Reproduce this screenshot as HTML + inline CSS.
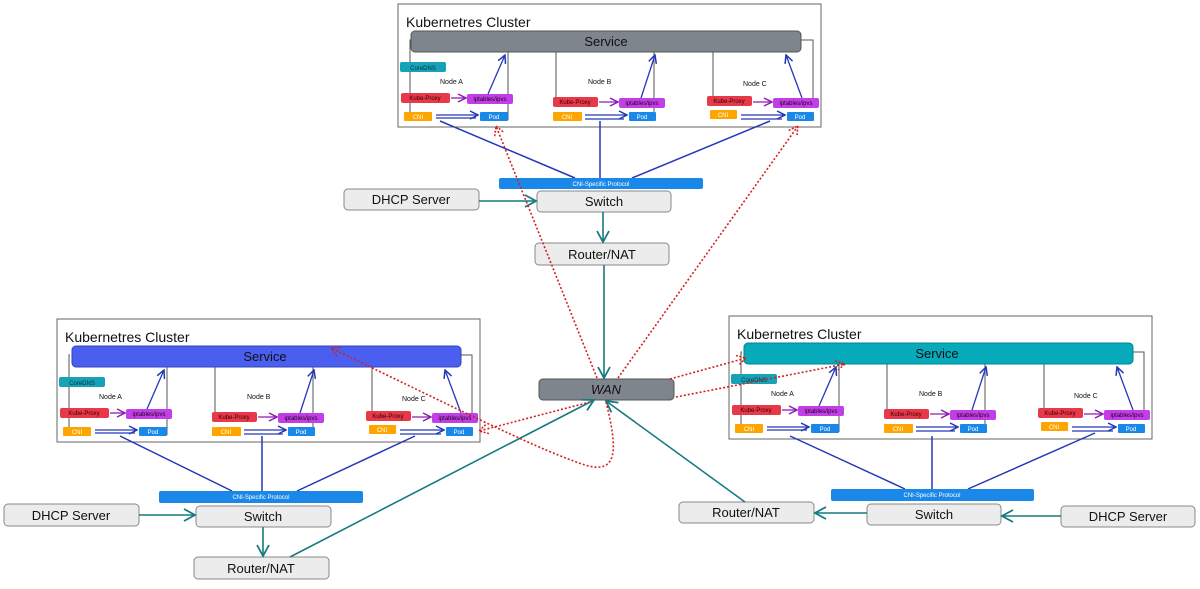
<!DOCTYPE html>
<html><head><meta charset="utf-8"><style>
html,body{margin:0;padding:0;background:#fff;}
svg text{font-family:"Liberation Sans",sans-serif;}
</style></head><body>
<svg width="1200" height="584" viewBox="0 0 1200 584" xmlns="http://www.w3.org/2000/svg">
<defs>
<marker id="ab" markerWidth="10" markerHeight="10" refX="9" refY="5" orient="auto" markerUnits="userSpaceOnUse"><path d="M1,1 L9,5 L1,9" fill="none" stroke="#2438b8" stroke-width="1.5"/></marker>
<marker id="ap" markerWidth="10" markerHeight="10" refX="9" refY="5" orient="auto" markerUnits="userSpaceOnUse"><path d="M1,1 L9,5 L1,9" fill="none" stroke="#8a1fb0" stroke-width="1.5"/></marker>
<marker id="at" markerWidth="14" markerHeight="14" refX="12" refY="7" orient="auto" markerUnits="userSpaceOnUse"><path d="M1,1 L12,7 L1,13" fill="none" stroke="#167a80" stroke-width="1.8"/></marker>
<marker id="ar" markerWidth="12" markerHeight="12" refX="10" refY="6" orient="auto" markerUnits="userSpaceOnUse"><path d="M1,1 L10,6 L1,11" fill="none" stroke="#d42020" stroke-width="1.5" stroke-dasharray="2 1.5"/></marker>
<g id="cl">
<rect x="0" y="0" width="423" height="123" fill="#fff" stroke="#666" stroke-width="1"/>
<text x="8" y="23" font-size="14" fill="#111">Kubernetres Cluster</text>
<g stroke="#555" stroke-width="1" fill="none">
<path d="M13,36 H12 V116"/><path d="M110,48 V116"/>
<path d="M158,48 V96"/><path d="M256,48 V116"/>
<path d="M315,48 V96"/><path d="M403,36 H415 V98"/>
</g>
<rect x="2" y="58" width="46" height="10" rx="2" fill="#17a2b8"/><text x="25" y="66" font-size="6" text-anchor="middle" fill="#033">CoreDNS</text>
<g font-size="7" fill="#111"><text x="42" y="80">Node A</text><text x="190" y="80">Node B</text><text x="345" y="82">Node C</text></g>
<g font-size="6" text-anchor="middle">
<rect x="3" y="89" width="49" height="10" rx="2" fill="#e8394a"/><text x="27" y="96" fill="#300">Kube-Proxy</text>
<rect x="69" y="90" width="46" height="10" rx="2" fill="#c23ee8"/><text x="92" y="97" fill="#201">iptables/ipvs</text>
<rect x="6" y="108" width="28" height="9" rx="1" fill="#ffa500"/><text x="20" y="115" fill="#fff">CNI</text>
<rect x="82" y="108" width="28" height="9" rx="1" fill="#1a88e8"/><text x="96" y="115" fill="#fff">Pod</text>
<rect x="155" y="93" width="45" height="10" rx="2" fill="#e8394a"/><text x="177" y="100" fill="#300">Kube-Proxy</text>
<rect x="221" y="94" width="46" height="10" rx="2" fill="#c23ee8"/><text x="244" y="101" fill="#201">iptables/ipvs</text>
<rect x="155" y="108" width="29" height="9" rx="1" fill="#ffa500"/><text x="169" y="115" fill="#fff">CNI</text>
<rect x="231" y="108" width="27" height="9" rx="1" fill="#1a88e8"/><text x="244" y="115" fill="#fff">Pod</text>
<rect x="309" y="92" width="45" height="10" rx="2" fill="#e8394a"/><text x="331" y="99" fill="#300">Kube-Proxy</text>
<rect x="375" y="94" width="46" height="10" rx="2" fill="#c23ee8"/><text x="398" y="101" fill="#201">iptables/ipvs</text>
<rect x="312" y="106" width="27" height="9" rx="1" fill="#ffa500"/><text x="325" y="113" fill="#fff">CNI</text>
<rect x="389" y="108" width="27" height="9" rx="1" fill="#1a88e8"/><text x="402" y="115" fill="#fff">Pod</text>
</g>
<g stroke="#8a1fb0" stroke-width="1.3" marker-end="url(#ap)"><line x1="53" y1="94" x2="68" y2="94"/><line x1="201" y1="98" x2="220" y2="98"/><line x1="355" y1="98" x2="374" y2="98"/></g>
<g stroke="#2438b8" stroke-width="1.3" fill="none">
<line x1="38" y1="111" x2="80" y2="111" marker-end="url(#ab)"/><line x1="38" y1="114" x2="78" y2="114"/>
<line x1="187" y1="111" x2="229" y2="111" marker-end="url(#ab)"/><line x1="187" y1="115" x2="226" y2="115"/>
<line x1="343" y1="111" x2="387" y2="111" marker-end="url(#ab)"/><line x1="343" y1="115" x2="384" y2="115"/>
<line x1="90" y1="90" x2="107" y2="51" marker-end="url(#ab)"/>
<line x1="243" y1="94" x2="257" y2="51" marker-end="url(#ab)"/>
<line x1="404" y1="94" x2="388" y2="51" marker-end="url(#ab)"/>
</g>
</g>
</defs>

<!-- top cluster -->
<g transform="translate(398,4)"><use href="#cl"/>
<rect x="13" y="27" width="390" height="21" rx="4" fill="#7f858c" stroke="#555"/><text x="208" y="42" font-size="13" text-anchor="middle" fill="#111">Service</text></g>
<!-- bottom-left -->
<g transform="translate(57,319)"><use href="#cl"/>
<rect x="15" y="27" width="389" height="21" rx="4" fill="#4a5ff0" stroke="#3344bb"/><text x="208" y="42" font-size="13" text-anchor="middle" fill="#111">Service</text></g>
<!-- bottom-right -->
<g transform="translate(729,316)"><use href="#cl"/>
<rect x="15" y="27" width="389" height="21" rx="4" fill="#06aabb" stroke="#088"/><text x="208" y="42" font-size="13" text-anchor="middle" fill="#111">Service</text></g>

<!-- blue links -->
<g stroke="#2438b8" stroke-width="1.5" fill="none">
<line x1="440" y1="121" x2="575" y2="178"/><line x1="600" y1="121" x2="600" y2="178"/><line x1="770" y1="121" x2="632" y2="178"/>
<line x1="120" y1="436" x2="232" y2="491"/><line x1="262" y1="436" x2="262" y2="491"/><line x1="415" y1="436" x2="297" y2="491"/>
<line x1="790" y1="436" x2="905" y2="489"/><line x1="932" y1="436" x2="932" y2="489"/><line x1="1095" y1="433" x2="968" y2="489"/>
</g>

<!-- protocol bars -->
<g font-size="6" fill="#fff" text-anchor="middle">
<rect x="499" y="178" width="204" height="11" rx="2" fill="#1a88e8"/><text x="601" y="186">CNI-Specific Protocol</text>
<rect x="159" y="491" width="204" height="12" rx="2" fill="#1a88e8"/><text x="261" y="499">CNI-Specific Protocol</text>
<rect x="831" y="489" width="203" height="12" rx="2" fill="#1a88e8"/><text x="932" y="497">CNI-Specific Protocol</text>
</g>

<!-- gray boxes -->
<g fill="#ececec" stroke="#888" stroke-width="1">
<rect x="537" y="191" width="134" height="21" rx="4"/><rect x="344" y="189" width="135" height="21" rx="4"/><rect x="535" y="243" width="134" height="22" rx="4"/>
<rect x="196" y="506" width="135" height="21" rx="4"/><rect x="4" y="504" width="135" height="22" rx="4"/><rect x="194" y="557" width="135" height="22" rx="4"/>
<rect x="867" y="504" width="134" height="21" rx="4"/><rect x="1061" y="506" width="134" height="21" rx="4"/><rect x="679" y="502" width="135" height="21" rx="4"/>
</g>
<rect x="539" y="379" width="135" height="21" rx="4" fill="#7f858c" stroke="#555"/>
<g font-size="13" text-anchor="middle" fill="#111">
<text x="604" y="206">Switch</text><text x="411" y="204">DHCP Server</text><text x="602" y="259">Router/NAT</text>
<text x="263" y="521">Switch</text><text x="71" y="520">DHCP Server</text><text x="261" y="573">Router/NAT</text>
<text x="934" y="519">Switch</text><text x="1128" y="521">DHCP Server</text><text x="746" y="517">Router/NAT</text>
<text x="606" y="394" font-style="italic">WAN</text>
</g>

<!-- teal arrows -->
<g stroke="#167a80" stroke-width="1.6" fill="none" marker-end="url(#at)">
<line x1="479" y1="201" x2="536" y2="201"/><line x1="603" y1="212" x2="603" y2="242"/><line x1="604" y1="265" x2="604" y2="378"/>
<line x1="139" y1="515" x2="195" y2="515"/><line x1="263" y1="527" x2="263" y2="556"/><line x1="290" y1="557" x2="594" y2="400"/>
<line x1="1061" y1="516" x2="1002" y2="516"/><line x1="867" y1="513" x2="815" y2="513"/><line x1="745" y1="502" x2="606" y2="401"/>
</g>

<!-- red dotted -->
<g stroke="#d42020" stroke-width="1.6" fill="none" stroke-dasharray="2 2">
<path d="M597,378 L496,126" marker-end="url(#ar)"/>
<path d="M618,378 L798,126" marker-end="url(#ar)"/>
<path d="M670,379 L746,358" marker-end="url(#ar)"/>
<path d="M676,397 L845,364" marker-end="url(#ar)"/>
<path d="M590,402 L479,431" marker-end="url(#ar)"/>
<path d="M606,402 C618,450 618,475 585,465 C540,450 480,420 331,348" marker-end="url(#ar)"/>
</g>
</svg>
</body></html>
